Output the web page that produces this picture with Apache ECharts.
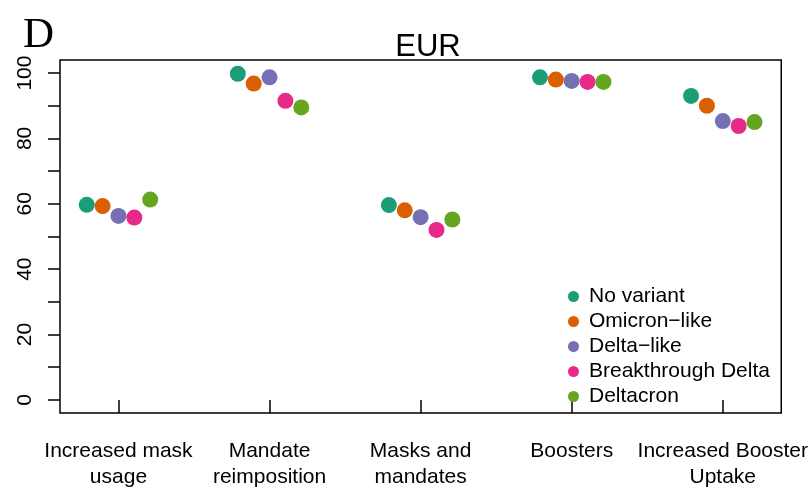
<!DOCTYPE html>
<html>
<head>
<meta charset="utf-8">
<script src="https://cdn.jsdelivr.net/npm/echarts@6/dist/echarts.min.js"></script>
<style>
  html, body { margin: 0; padding: 0; background: #fff; }
  #chart { width: 811px; height: 490px; }
</style>
</head>
<body>
<div id="chart"></div>
<script>
// scenario categories (x axis)
var categories = ['Increased mask\nusage', 'Mandate\nreimposition', 'Masks and\nmandates', 'Boosters', 'Increased Booster\nUptake'];
// variant names (legend)
var variants = ['No variant', 'Omicron\u2212like', 'Delta\u2212like', 'Breakthrough Delta', 'Deltacron'];
var colors = ['#1B9E77', '#D95F02', '#7570B3', '#E7298A', '#66A61E'];
// values per variant, one per category
var noVariant    = [59.7, 99.8, 59.6, 98.7, 93.0];
var omicronLike  = [59.3, 96.8, 58.0, 98.0, 90.0];
var deltaLike    = [56.3, 98.7, 55.9, 97.6, 85.3];
var breakthrough = [55.8, 91.5, 52.0, 97.3, 83.8];
var deltacron    = [61.3, 89.5, 55.2, 97.3, 85.0];
var values = [noVariant, omicronLike, deltaLike, breakthrough, deltacron];
// horizontal dodge of each variant around the category position
var offsets = [-0.21, -0.105, 0, 0.105, 0.21];
var yTicks = [0, 10, 20, 30, 40, 50, 60, 70, 80, 90, 100];
var yLabels = [0, 20, 40, 60, 80, 100];

var chart = echarts.init(document.getElementById('chart'), null, { renderer: 'canvas' });

var series = [];
for (var i = 0; i < variants.length; i++) {
  var pts = [];
  for (var j = 0; j < categories.length; j++) {
    pts.push([j + 1 + offsets[i], values[i][j]]);
  }
  series.push({
    name: variants[i],
    type: 'scatter',
    data: pts,
    symbol: 'circle',
    symbolSize: 16,
    itemStyle: { color: colors[i], opacity: 1 },
    emphasis: { disabled: true }
  });
}

var font = 'Liberation Sans, Arial, Helvetica, sans-serif';

var option = {
  backgroundColor: '#fff',
  animation: false,
  title: [{
    text: 'EUR',
    left: 423,
    top: 27,
    textAlign: 'center',
    textStyle: { fontFamily: font, fontSize: 31, fontWeight: 'normal', color: '#000' }
  }, {
    text: 'D',
    left: 18,
    top: 9,
    textStyle: { fontFamily: 'Liberation Serif, Times New Roman, serif', fontSize: 43, fontWeight: 'normal', color: '#000' }
  }],
  legend: {
    orient: 'vertical',
    left: 563,
    top: 281,
    icon: 'circle',
    itemWidth: 11,
    itemHeight: 11,
    itemGap: 4,
    data: variants,
    textStyle: { fontFamily: font, fontSize: 21, color: '#000', padding: [0, 0, 0, 5] }
  },
  grid: {
    left: 60, right: 29, top: 60, bottom: 71,
    show: true,
    borderColor: '#000',
    borderWidth: 1.5,
    containLabel: false
  },
  xAxis: {
    type: 'value',
    min: 0.613,
    max: 5.387,
    splitLine: { show: false },
    axisLine: { show: false },
    axisTick: {
      show: true,
      length: 13,
      customValues: [1, 2, 3, 4, 5],
      lineStyle: { color: '#000', width: 1.5 }
    },
    axisLabel: {
      show: true,
      customValues: [1, 2, 3, 4, 5],
      margin: 25,
      fontFamily: font,
      fontSize: 21,
      lineHeight: 26,
      color: '#000',
      formatter: function (v) { return categories[Math.round(v) - 1]; }
    }
  },
  yAxis: {
    type: 'value',
    min: -4,
    max: 104,
    splitLine: { show: false },
    axisLine: { show: false },
    axisTick: {
      show: true,
      length: 12,
      customValues: yTicks,
      lineStyle: { color: '#000', width: 1.5 }
    },
    axisLabel: {
      show: true,
      customValues: yLabels,
      rotate: 90,
      margin: 24,
      fontFamily: font,
      fontSize: 21,
      color: '#000'
    }
  },
  series: series
};

chart.setOption(option);
</script>
</body>
</html>
